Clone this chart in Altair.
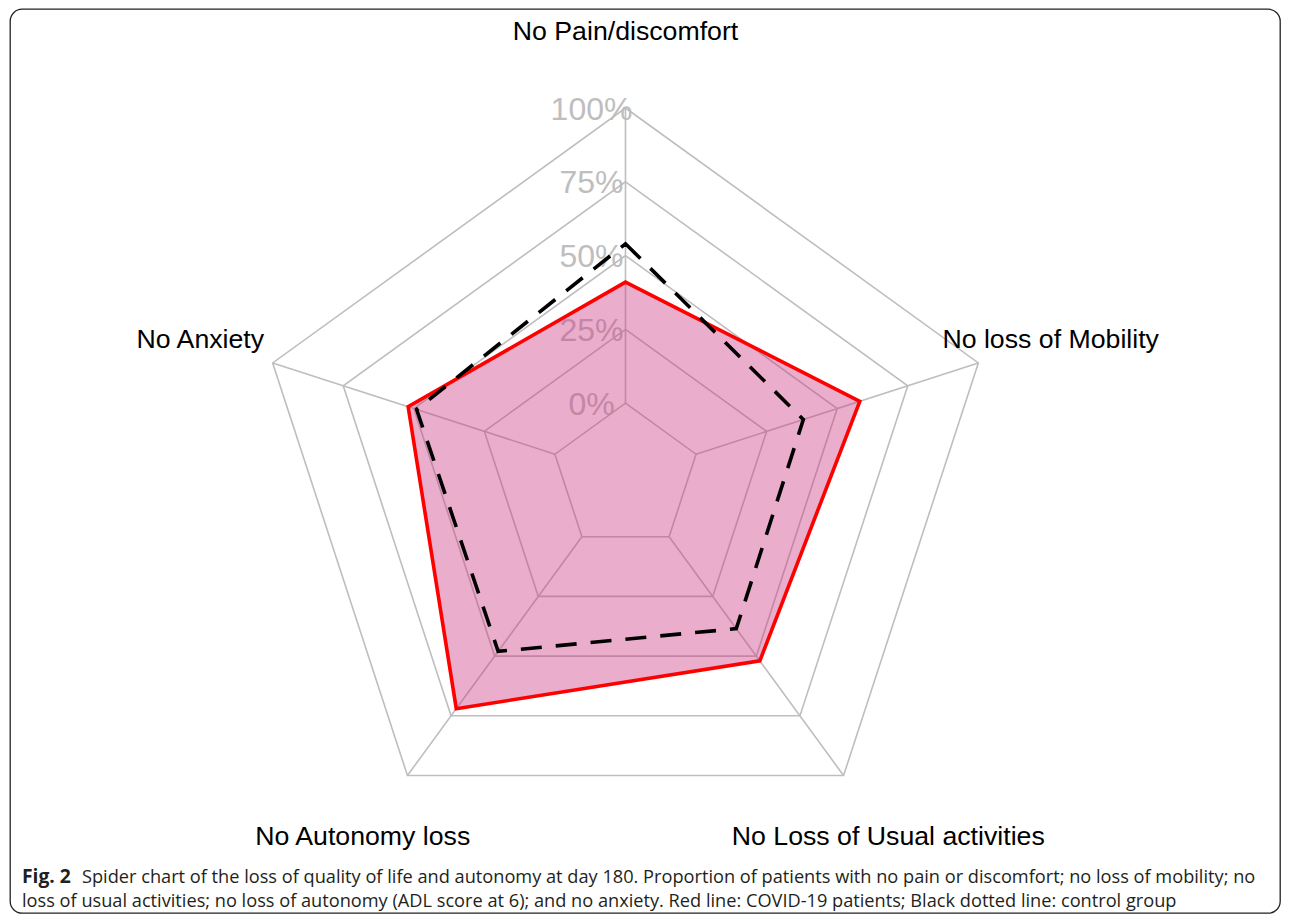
import altair as alt
import pandas as pd

# ---------------- data ----------------
categories = ["No Pain/discomfort", "No loss of Mobility", "No Loss of Usual activities",
              "No Autonomy loss", "No Anxiety"]
covid_values = [0.41, 0.58, 0.52, 0.72, 0.52]
control_values = [0.54, 0.38, 0.385, 0.48, 0.49]
tick_values = [0.0, 0.25, 0.5, 0.75, 1.0]
tick_labels = ["0%", "25%", "50%", "75%", "100%"]
caption_bold = "Fig. 2"
caption_line1 = ("Spider chart of the loss of quality of life and autonomy at day 180. Proportion of "
                 "patients with no pain or discomfort; no loss of mobility; no")
caption_line2 = ("loss of usual activities; no loss of autonomy (ADL score at 6); and no anxiety. "
                 "Red line: COVID-19 patients; Black dotted line: control group")

# ---------------- layout ----------------
W, H = 1270, 904
CX, CY = 615.5, 468.0     # centre in plot pixels
RX, RY = 371.0, 369.0     # pixel radius of the 100% ring
N = len(categories)

xscale = alt.Scale(domain=[-CX / RX, (W - CX) / RX], nice=False, zero=False)
yscale = alt.Scale(domain=[-(H - CY) / RY, CY / RY], nice=False, zero=False)

def X(field="x"):
    return alt.X(f"{field}:Q", scale=xscale, axis=None)

def Y(field="y"):
    return alt.Y(f"{field}:Q", scale=yscale, axis=None)

ANG = f"2*PI*datum.k/{N}"
GRID = "#BEBEBE"

# rings
rings_df = pd.DataFrame([{"level": lv, "k": k} for lv in tick_values for k in range(N)])
rings = alt.Chart(rings_df).transform_calculate(
    r="0.2 + 0.8*datum.level"
).transform_calculate(
    x=f"datum.r*sin({ANG})", y=f"datum.r*cos({ANG})"
).mark_line(interpolate="linear-closed", color=GRID, strokeWidth=1.6).encode(
    x=X(), y=Y(), detail="level:N", order="k:Q"
)

# spokes
spokes_df = pd.DataFrame({"k": list(range(N))})
spokes = alt.Chart(spokes_df).transform_calculate(
    x=f"0.2*sin({ANG})", y=f"0.2*cos({ANG})",
    x2=f"sin({ANG})", y2=f"cos({ANG})"
).mark_rule(color=GRID, strokeWidth=1.6).encode(
    x=X(), y=Y(), x2="x2:Q", y2="y2:Q"
)

# ring labels
ticks_df = pd.DataFrame({"level": tick_values, "label": tick_labels})
ticklab = alt.Chart(ticks_df).transform_calculate(
    x="0", y="0.2 + 0.8*datum.level"
).mark_text(font="Liberation Sans", fontSize=32, color=GRID, align="center",
            baseline="alphabetic", dx=-34, dy=11.5).encode(
    x=X(), y=Y(), text="label:N"
)

# series
series_df = pd.DataFrame({
    "category": categories * 2,
    "k": list(range(N)) * 2,
    "value": covid_values + control_values,
    "group": ["COVID-19"] * N + ["Control"] * N,
})
series_base = alt.Chart(series_df).transform_calculate(
    r="0.2 + 0.8*datum.value"
).transform_calculate(
    x=f"datum.r*sin({ANG})", y=f"datum.r*cos({ANG})"
)
covid = series_base.transform_filter("datum.group == 'COVID-19'").mark_line(
    interpolate="linear-closed", fill="#CC3380", fillOpacity=0.4,
    stroke="#FF0000", strokeWidth=3.6, strokeJoin="miter"
).encode(x=X(), y=Y(), order="k:Q")
control = series_base.transform_filter("datum.group == 'Control'").mark_line(
    interpolate="linear-closed", stroke="#000000", strokeWidth=3.6,
    strokeDash=[21, 14], strokeJoin="miter"
).encode(x=X(), y=Y(), order="k:Q")

# category labels
cat_df = pd.DataFrame({"category": categories, "k": list(range(N))})
catlab = alt.Chart(cat_df).transform_calculate(
    x=f"1.205*sin({ANG})", y=f"1.205*cos({ANG})"
).mark_text(font="Liberation Sans", fontSize=26.7, color="#000000",
            align="center", baseline="middle").encode(
    x=X(), y=Y(), text="category:N"
)

# caption
cap_font = "Open Sans"
cap_b = alt.Chart(pd.DataFrame({"t": [caption_bold]})).mark_text(
    font=cap_font, fontSize=19.3, fontWeight="bold", color="#231F20",
    align="left", baseline="alphabetic").encode(
    x=alt.value(12), y=alt.value(874), text="t:N")
cap1 = alt.Chart(pd.DataFrame({"t": [caption_line1]})).mark_text(
    font=cap_font, fontSize=18.2, color="#231F20",
    align="left", baseline="alphabetic").encode(
    x=alt.value(72), y=alt.value(874), text="t:N")
cap2 = alt.Chart(pd.DataFrame({"t": [caption_line2]})).mark_text(
    font=cap_font, fontSize=18.2, color="#231F20",
    align="left", baseline="alphabetic").encode(
    x=alt.value(12), y=alt.value(897.5), text="t:N")

chart = alt.layer(
    rings, spokes, ticklab, covid, control, catlab, cap_b, cap1, cap2
).properties(
    width=W, height=H,
    padding={"left": 2, "right": 2, "top": 1, "bottom": 1},
    autosize=alt.AutoSizeParams(type="none")
).configure_view(
    stroke="#222222", strokeWidth=1.3, cornerRadius=12
)

chart.save("out.html", embed_options={"renderer": "svg", "actions": False})
